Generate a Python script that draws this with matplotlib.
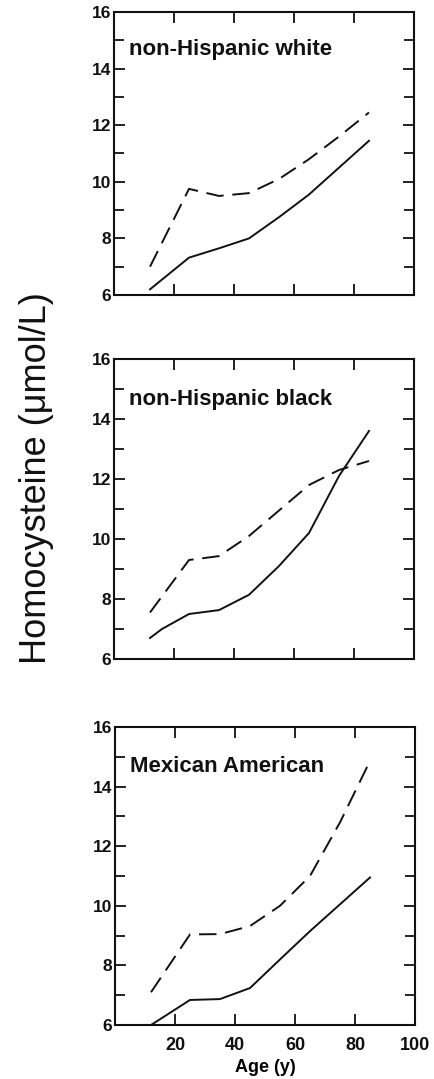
import matplotlib
matplotlib.use('Agg')
import matplotlib.pyplot as plt
from matplotlib.ticker import MultipleLocator, FixedLocator

# age points (years)
age = [12, 25, 35, 45, 55, 65, 75, 85]
age_black_solid = [12, 16, 25, 35, 45, 55, 65, 75, 85]

groups = ['non-Hispanic white', 'non-Hispanic black', 'Mexican American']

# solid curves
solid_white = [6.2, 7.32, 7.65, 8.0, 8.75, 9.55, 10.5, 11.45]
solid_black = [6.7, 7.0, 7.5, 7.63, 8.14, 9.1, 10.2, 12.1, 13.6]
solid_mex = [6.0, 6.84, 6.87, 7.24, 8.2, 9.15, 10.05, 10.95]

# dashed curves
dash_white = [7.0, 9.75, 9.5, 9.6, 10.1, 10.8, 11.6, 12.45]
dash_black = [7.55, 9.3, 9.43, 10.1, 10.95, 11.8, 12.3, 12.6]
dash_mex = [7.1, 9.04, 9.05, 9.32, 10.0, 11.0, 12.8, 14.86]

solids = [(age, solid_white), (age_black_solid, solid_black), (age, solid_mex)]
dashes = [dash_white, dash_black, dash_mex]

plt.rcParams['font.family'] = ['Liberation Sans', 'DejaVu Sans']

fig = plt.figure(figsize=(4.34, 10.79), dpi=100)
W, H = 434, 1079
# axes boxes in pixels: left, top, right, bottom
boxes = [(114, 12, 414, 295), (114, 359, 414, 659), (115, 727, 415, 1025)]

for i, (l, t, r, b) in enumerate(boxes):
    ax = fig.add_axes([l / W, 1 - b / H, (r - l) / W, (b - t) / H])
    xs, ys = solids[i]
    ax.plot(xs, ys, color='#111111', lw=1.4, solid_joinstyle='miter')
    ax.plot(age, dashes[i], color='#111111', lw=1.4, dashes=(9, 4.5))
    ax.set_xlim(0, 100)
    ax.set_ylim(6, 16)
    ax.xaxis.set_major_locator(FixedLocator([20, 40, 60, 80, 100]))
    ax.yaxis.set_major_locator(MultipleLocator(2))
    ax.yaxis.set_minor_locator(MultipleLocator(1))
    ax.tick_params(axis='both', which='both', direction='in', top=True,
                   right=True, width=1.3, colors='#111111')
    ax.tick_params(axis='both', which='major', length=8)
    ax.tick_params(axis='y', which='minor', length=7)
    ax.tick_params(axis='y', which='major', pad=2, labelsize=12.5)
    for lab in ax.get_yticklabels():
        lab.set_fontweight('bold')
    for s in ax.spines.values():
        s.set_linewidth(1.5)
        s.set_color('#111111')
    if i < 2:
        ax.tick_params(axis='x', labelbottom=False)
    else:
        ax.tick_params(axis='x', pad=9, labelsize=13)
        for lab in ax.get_xticklabels():
            lab.set_fontweight('bold')
        ax.set_xlabel('Age (y)', fontsize=13, fontweight='bold', labelpad=3)
    ax.text(0.05, 0.848, groups[i], transform=ax.transAxes, fontsize=16,
            fontweight='bold', color='#111111', ha='left', va='baseline')

fig.text(37 / W, 1 - 478 / H, 'Homocysteine (\u03bcmol/L)', rotation=90,
         fontsize=26, ha='center', va='center', color='#111111')

fig.savefig('out.png', dpi=100, facecolor='white')
